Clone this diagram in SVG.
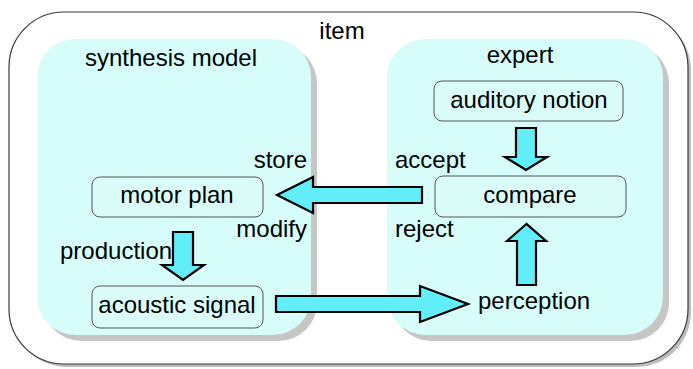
<svg xmlns="http://www.w3.org/2000/svg" width="693" height="369" viewBox="0 0 693 369">
  <style>
    text { font-family: "Liberation Sans", Arial, sans-serif; font-size: 24px; fill: #000; }
    .mid { text-anchor: middle; }
    .end { text-anchor: end; }
    .panel { fill: #d6fdf9; }
    .pshadow { fill: #c6c6c6; }
    .node { fill: #d9fcf9; stroke: #555; stroke-width: 1; }
    .arrow { fill: #62eef8; stroke: #000; stroke-width: 2.2; stroke-linejoin: miter; }
  </style>

  <!-- outer frame -->
  <g id="item">
    <rect x="12" y="15" width="679" height="352" rx="55" fill="#bdbdbd"/>
    <rect x="9" y="12" width="679" height="352" rx="55" fill="#fff" stroke="#3a3a3a" stroke-width="1.2"/>
    <text class="mid" x="342" y="39">item</text>
  </g>

  <!-- synthesis model panel -->
  <g id="synthesis-model">
    <rect class="pshadow" x="43" y="45" width="274" height="296" rx="38"/>
    <rect class="panel" x="37" y="39" width="274" height="296" rx="38"/>
    <text class="mid" x="171" y="66">synthesis model</text>
  </g>

  <!-- expert panel -->
  <g id="expert">
    <rect class="pshadow" x="393" y="45" width="276" height="296" rx="38"/>
    <rect class="panel" x="387" y="39" width="276" height="296" rx="38"/>
    <text class="mid" x="520" y="63">expert</text>
  </g>

  <g id="auditory-notion">
    <rect class="node" x="434" y="81" width="189" height="40" rx="8"/>
    <text class="mid" x="529" y="108">auditory notion</text>
  </g>

  <g id="compare">
    <rect class="node" x="435" y="176" width="191" height="41" rx="8"/>
    <text class="mid" x="530" y="203">compare</text>
  </g>

  <g id="motor-plan">
    <rect class="node" x="92" y="177" width="171" height="40" rx="8"/>
    <text class="mid" x="177" y="203">motor plan</text>
  </g>

  <g id="acoustic-signal">
    <rect class="node" x="92" y="286" width="171" height="42" rx="8"/>
    <text class="mid" x="177" y="313">acoustic signal</text>
  </g>

  <g id="perception">
    <text x="478" y="309">perception</text>
  </g>

  <!-- block arrows and their labels -->
  <g id="connectors">
    <polygon class="arrow" points="516,128 536,128 536,157 547,157 526,170 505,157 516,157"/>
    <polygon class="arrow" points="517,285 536,285 536,241 546,241 526.5,224 507,241 517,241"/>
    <polygon class="arrow" points="422,187 313,187 313,177 277,195 313,213 313,203 422,203"/>
    <polygon class="arrow" points="276,296 420,296 420,286 468,304 420,322 420,312 276,312"/>
    <polygon class="arrow" points="173,232 193,232 193,265 204,265 183,280 162,265 173,265"/>

    <text x="395" y="168">accept</text>
    <text x="395" y="237">reject</text>
    <text class="end" x="307" y="168">store</text>
    <text class="end" x="307" y="237">modify</text>
    <text x="60" y="259">production</text>
  </g>
</svg>
